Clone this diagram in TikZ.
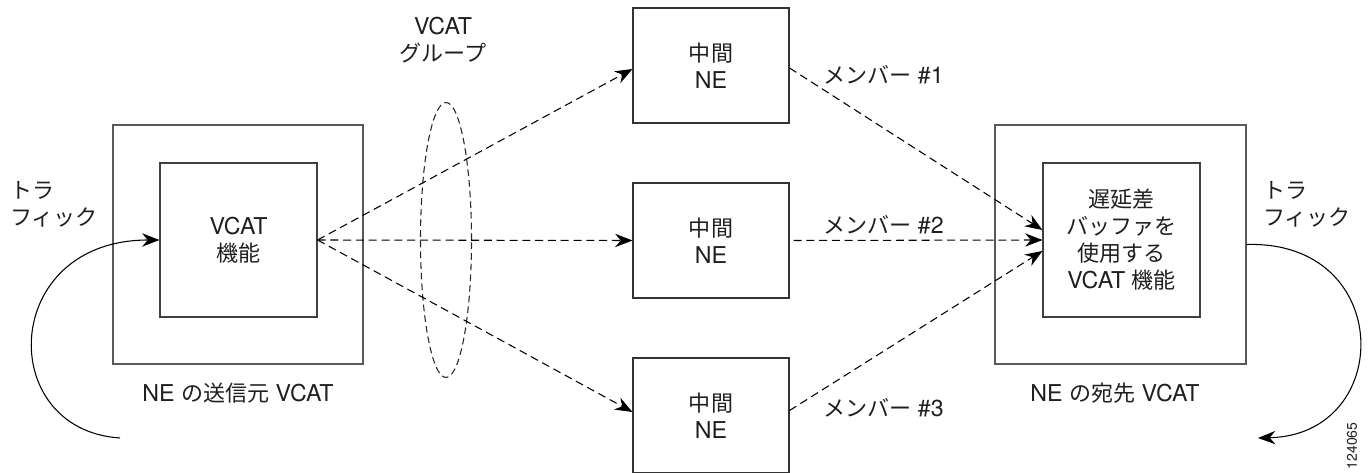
\documentclass[tikz,border=0pt]{standalone}
\usepackage{fontspec}
\setmainfont{TeX Gyre Heros}
\newfontfamily\jp{Noto Sans CJK JP}[Scale=0.95]
\usetikzlibrary{arrows.meta,calc,shapes.geometric}
\begin{document}
\begin{tikzpicture}[x=0.75pt,y=-0.75pt,
  every node/.style={font=\fontsize{17.4}{20.3}\selectfont, text=black!88},
  outerbox/.style={draw=black!65, line width=0.8pt, inner sep=0pt,
    minimum width={250*0.75pt}, minimum height={239*0.75pt}},
  innerbox/.style={draw=black!75, line width=0.8pt, inner sep=0pt, align=center,
    minimum width={157*0.75pt}, minimum height={154*0.75pt}},
  midbox/.style={draw=black!80, line width=0.8pt, inner sep=0pt, align=center,
    minimum width={156*0.75pt}, minimum height={115*0.75pt}},
  lbl/.style={inner sep=0pt, align=center},
  dasharrow/.style={line width=0.8pt, dash pattern=on 6pt off 3.6pt,
    -{Stealth[length=13pt,width=10pt]}},
  traffic/.style={line width=0.8pt, -{Stealth[length=13pt,width=10pt]}}
]
\useasboundingbox (0,0) rectangle (1370,473);

% source NE
\node[outerbox] (srcOut) at (238,244.5) {};
\node[innerbox] (srcIn) at (238.5,240) {VCAT\\{\jp 機能}};
\node[lbl] (srcLbl) at (238,393) {NE {\jp の送信元} VCAT};

% destination NE
\node[outerbox, minimum width={251*0.75pt}] (dstOut) at (1120.5,244.5) {};
\node[innerbox] (dstIn) at (1121.5,240) {{\jp 遅延差}\\{\jp バッファを}\\{\jp 使用する}\\VCAT {\jp 機能}};
\node[lbl] (dstLbl) at (1115,393) {NE {\jp の宛先} VCAT};

% intermediate NEs
\node[midbox] (mid1) at (711,65.5) {{\jp 中間}\\NE};
\node[midbox] (mid2) at (711,240.5) {{\jp 中間}\\NE};
\node[midbox] (mid3) at (711,415.5) {{\jp 中間}\\NE};

% VCAT group ellipse
\node[ellipse, draw=black!85, line width=0.8pt, dash pattern=on 5pt off 3pt,
  inner sep=0pt, minimum width={51*0.75pt}, minimum height={275*0.75pt}] (grp) at (446,240) {};
\node[lbl] (grpLbl) at (443,40) {VCAT\\{\jp グループ}};

% source to intermediate
\draw[dasharrow] (srcIn.east) -- ($(mid1.west)+(0,3.5)$);
\draw[dasharrow] (srcIn.east) -- (mid2.west);
\draw[dasharrow] (srcIn.east) -- ($(mid3.west)+(0,-3.5)$);

% intermediate to destination
\draw[dasharrow] ($(mid1.east)+(0,2.5)$) -- ($(dstIn.west)+(0,-10)$);
\draw[dasharrow, shorten <=3pt] (mid2.east) -- (dstIn.west);
\draw[dasharrow] ($(mid3.east)+(0,-5)$) -- ($(dstIn.west)+(0,11)$);

\node[lbl, anchor=west] (m1) at (823,75) {{\jp メンバー} \#1};
\node[lbl, anchor=west] (m2) at (823,225) {{\jp メンバー} \#2};
\node[lbl, anchor=west] (m3) at (823,408) {{\jp メンバー} \#3};

% traffic in
\node[lbl, align=left, anchor=west] (trIn) at (10,204) {{\jp トラ}\\{\jp フィック}};
\coordinate (inStart) at (120,438);
\draw[traffic] (inStart) .. controls (-5,430) and (0,240) .. (srcIn.west);

% traffic out
\node[lbl, align=left, anchor=west] (trOut) at (1263,204) {{\jp トラ}\\{\jp フィック}};
\coordinate (outEnd) at (1258,438);
\draw[traffic] (dstOut.east) .. controls (1395,240) and (1395,435) .. (outEnd);

% figure number
\node[lbl, rotate=90, font=\fontsize{10.5}{12}\selectfont] (fig) at (1352,446) {124065};
\end{tikzpicture}
\end{document}
